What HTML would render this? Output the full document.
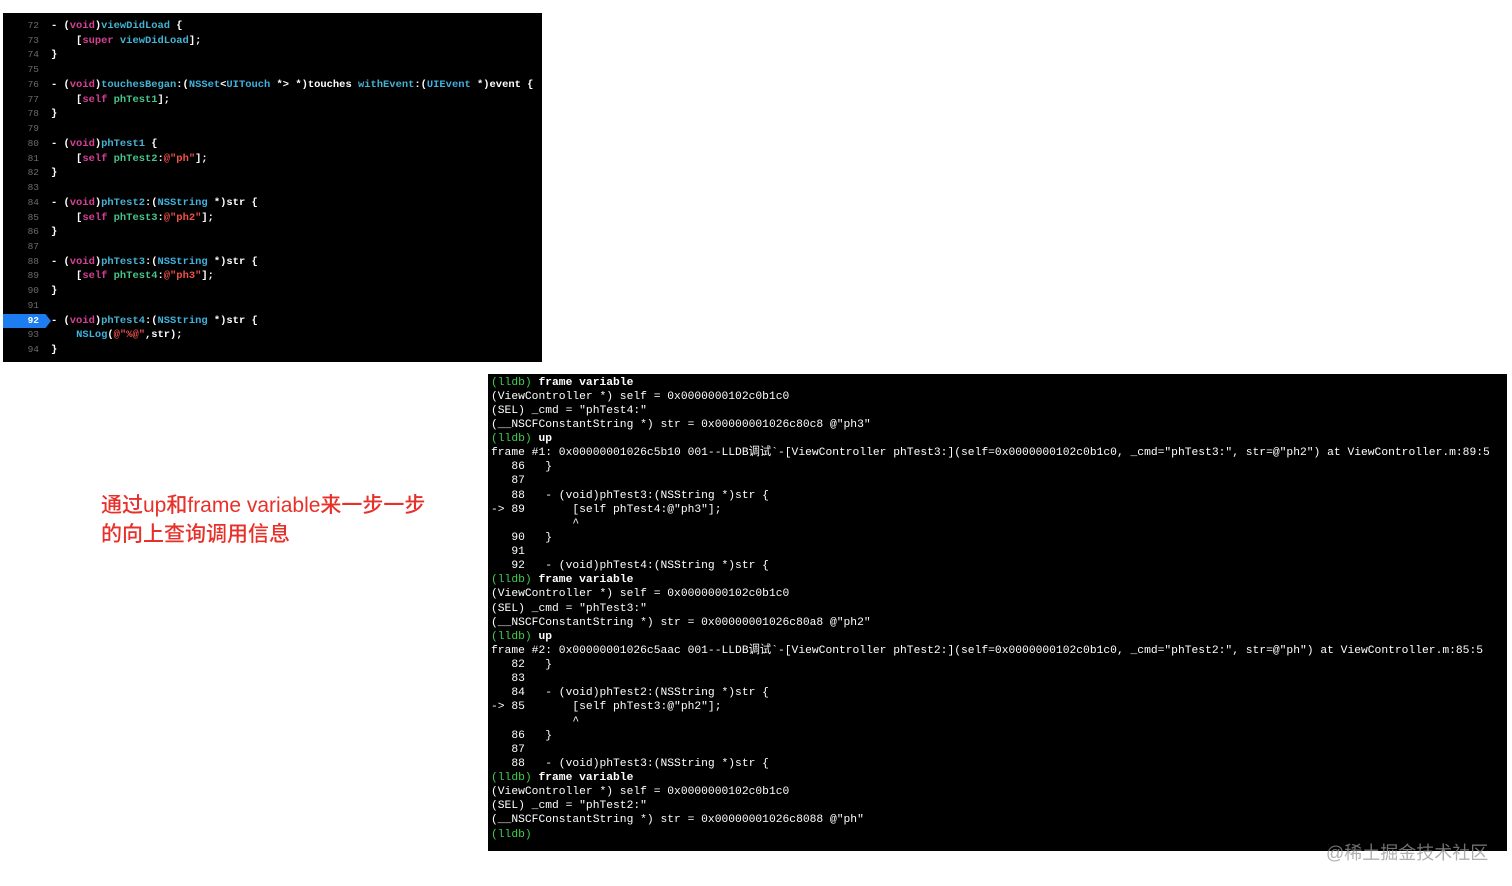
<!DOCTYPE html>
<html><head><meta charset="utf-8"><style>
body{margin:0;width:1512px;height:886px;background:#fff;position:relative;overflow:hidden}
#code{position:absolute;left:3px;top:13px;width:539px;height:349px;background:#000}
#code pre{position:absolute;left:0;top:6px;margin:0;font-family:"Liberation Mono",monospace;font-size:10.45px;line-height:14.73px;color:#fff;white-space:pre;font-weight:bold}
.n{color:#6c6c6c;display:inline-block;width:36px;text-align:right;padding-right:12px;font-size:9.5px;font-weight:normal}
.k{color:#d63f96}.t{color:#3eb2e0}.g{color:#46c48a}.s{color:#f0504a}.m{color:#44b3d4}
.hl{background:#1c7cf0;color:#fff;display:inline-block;width:36px;padding-right:12px;text-align:right;font-size:9.5px;clip-path:polygon(0 0,88% 0,100% 50%,88% 100%,0 100%)}
#term{position:absolute;left:488px;top:374px;width:1019px;height:477px;background:#000}
#term pre{position:absolute;left:3px;top:1.5px;margin:0;font-family:"Liberation Mono","Noto Sans CJK SC",monospace;font-size:11.3px;line-height:14.13px;color:#fff;white-space:pre}
.p{color:#3fcf4f}.b{font-weight:bold}
#note{position:absolute;left:101px;top:491px;font-family:"Liberation Sans","Noto Sans CJK SC",sans-serif;font-size:21px;line-height:29px;color:#e8302a;font-weight:500}
#wm{position:absolute;left:1326px;top:839px;font-family:"Liberation Sans","Noto Sans CJK SC",sans-serif;font-size:18px;color:rgba(150,150,150,0.75)}
</style></head><body>
<div id="code"><pre><span class="n">72</span>- (<span class="k">void</span>)<span class="m">viewDidLoad</span> {
<span class="n">73</span>    [<span class="k">super</span> <span class="m">viewDidLoad</span>];
<span class="n">74</span>}
<span class="n">75</span>
<span class="n">76</span>- (<span class="k">void</span>)<span class="m">touchesBegan</span>:(<span class="t">NSSet</span>&lt;<span class="t">UITouch</span> *&gt; *)touches <span class="m">withEvent</span>:(<span class="t">UIEvent</span> *)event {
<span class="n">77</span>    [<span class="k">self</span> <span class="g">phTest1</span>];
<span class="n">78</span>}
<span class="n">79</span>
<span class="n">80</span>- (<span class="k">void</span>)<span class="m">phTest1</span> {
<span class="n">81</span>    [<span class="k">self</span> <span class="g">phTest2</span>:<span class="s">@"ph"</span>];
<span class="n">82</span>}
<span class="n">83</span>
<span class="n">84</span>- (<span class="k">void</span>)<span class="m">phTest2</span>:(<span class="t">NSString</span> *)str {
<span class="n">85</span>    [<span class="k">self</span> <span class="g">phTest3</span>:<span class="s">@"ph2"</span>];
<span class="n">86</span>}
<span class="n">87</span>
<span class="n">88</span>- (<span class="k">void</span>)<span class="m">phTest3</span>:(<span class="t">NSString</span> *)str {
<span class="n">89</span>    [<span class="k">self</span> <span class="g">phTest4</span>:<span class="s">@"ph3"</span>];
<span class="n">90</span>}
<span class="n">91</span>
<span class="hl">92</span>- (<span class="k">void</span>)<span class="m">phTest4</span>:(<span class="t">NSString</span> *)str {
<span class="n">93</span>    <span class="t">NSLog</span>(<span class="s">@"%@"</span>,str);
<span class="n">94</span>}</pre></div>
<div id="term"><pre><span class="p">(lldb)</span> <span class="b">frame variable</span>
(ViewController *) self = 0x0000000102c0b1c0
(SEL) _cmd = "phTest4:"
(__NSCFConstantString *) str = 0x00000001026c80c8 @"ph3"
<span class="p">(lldb)</span> <span class="b">up</span>
frame #1: 0x00000001026c5b10 001--LLDB调试`-[ViewController phTest3:](self=0x0000000102c0b1c0, _cmd="phTest3:", str=@"ph2") at ViewController.m:89:5
   86  	}
   87
   88  	- (void)phTest3:(NSString *)str {
-> 89  	    [self phTest4:@"ph3"];
       	    ^
   90  	}
   91
   92  	- (void)phTest4:(NSString *)str {
<span class="p">(lldb)</span> <span class="b">frame variable</span>
(ViewController *) self = 0x0000000102c0b1c0
(SEL) _cmd = "phTest3:"
(__NSCFConstantString *) str = 0x00000001026c80a8 @"ph2"
<span class="p">(lldb)</span> <span class="b">up</span>
frame #2: 0x00000001026c5aac 001--LLDB调试`-[ViewController phTest2:](self=0x0000000102c0b1c0, _cmd="phTest2:", str=@"ph") at ViewController.m:85:5
   82  	}
   83
   84  	- (void)phTest2:(NSString *)str {
-> 85  	    [self phTest3:@"ph2"];
       	    ^
   86  	}
   87
   88  	- (void)phTest3:(NSString *)str {
<span class="p">(lldb)</span> <span class="b">frame variable</span>
(ViewController *) self = 0x0000000102c0b1c0
(SEL) _cmd = "phTest2:"
(__NSCFConstantString *) str = 0x00000001026c8088 @"ph"
<span class="p">(lldb)</span></pre></div>
<div id="note">通过up和frame variable来一步一步<br>的向上查询调用信息</div>
<div id="wm">@稀土掘金技术社区</div>
</body></html>
